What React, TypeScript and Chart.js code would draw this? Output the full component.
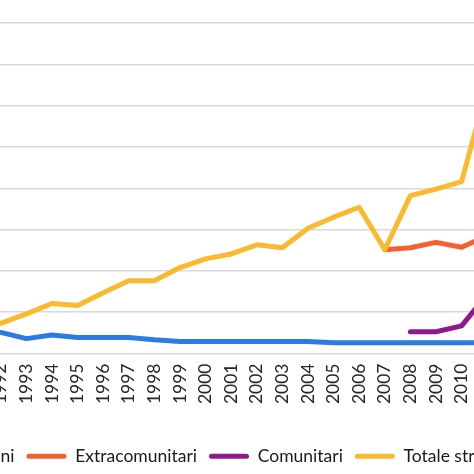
import React, { useEffect, useRef } from "react";
import { Chart, registerables } from "chart.js";

Chart.register(...registerables);

const years = [
  "1992", "1993", "1994", "1995", "1996", "1997", "1998", "1999", "2000", "2001",
  "2002", "2003", "2004", "2005", "2006", "2007", "2008", "2009", "2010", "2011",
];

const italiani = [
  2550, 1800, 2230, 1940, 1940, 1940, 1660, 1450, 1450, 1450,
  1450, 1450, 1450, 1300, 1300, 1300, 1300, 1300, 1300, 1300,
];

const extracomunitari = [
  null, null, null, null, null, null, null, null, null, null,
  null, null, null, null, null, 12550, 12800, 13450, 12850, 14250,
];

const comunitari = [
  null, null, null, null, null, null, null, null, null, null,
  null, null, null, null, null, null, 2630, 2630, 3350, 7150,
];

const totaleStranieri = [
  3650, 4800, 6050, 5800, 7350, 8800, 8800, 10400, 11450, 12050,
  13150, 12800, 15150, 16500, 17700, 12550, 19100, 19900, 20800, 32200,
];

const seriesLabels = ["Italiani", "Extracomunitari", "Comunitari", "Totale stranieri"];
const seriesColors = ["#2B7BE4", "#F4602F", "#8E1A8E", "#FBB92E"];

const yMin = 0;
const yMax = 40000;
const yStep = 5000;

const FONT = "Lato, 'Open Sans', sans-serif";

export default function App() {
  const ref = useRef<HTMLCanvasElement | null>(null);

  useEffect(() => {
    if (!ref.current) return;
    const values = [italiani, extracomunitari, comunitari, totaleStranieri];
    const drawOrder = [3, 2, 1, 0];
    const chart = new Chart(ref.current, {
      type: "line",
      data: {
        labels: years,
        datasets: values.map((v, i) => ({
          label: seriesLabels[i],
          data: v,
          borderColor: seriesColors[i],
          backgroundColor: seriesColors[i],
          borderWidth: 5,
          pointRadius: 0,
          pointHoverRadius: 0,
          tension: 0,
          borderCapStyle: "round",
          borderJoinStyle: "round",
          spanGaps: false,
          order: drawOrder[i],
          yAxisID: "y",
        })),
      },
      options: {
        responsive: false,
        animation: false,
        devicePixelRatio: 1,
        layout: { padding: { top: 23, left: 0, right: 0, bottom: 0 } },
        scales: {
          x: {
            type: "category",
            offset: true,
            grid: { display: false, drawTicks: false },
            border: { display: false },
            ticks: {
              autoSkip: false,
              minRotation: 90,
              maxRotation: 90,
              padding: 10,
              color: "#262626",
              font: { family: FONT, size: 17.5 },
            },
            afterFit: (scale: any) => {
              scale.height = 82;
            },
          },
          y: {
            position: "left",
            min: yMin,
            max: yMax,
            grid: { color: "#D9D9D9", lineWidth: 1.5, drawTicks: false },
            border: { display: false },
            ticks: {
              stepSize: yStep,
              padding: 8,
              color: "#262626",
              font: { family: FONT, size: 17.5 },
            },
            afterFit: (scale: any) => {
              scale.width = 92;
            },
          },
          yRight: {
            position: "right",
            min: yMin,
            max: yMax,
            grid: { display: false, drawTicks: false },
            border: { display: false },
            ticks: { display: false },
            afterFit: (scale: any) => {
              scale.width = 36;
            },
          },
        },
        plugins: {
          legend: {
            position: "bottom",
            labels: {
              boxWidth: 40,
              boxHeight: 5,
              padding: 12,
              useBorderRadius: true,
              borderRadius: 2.5,
              color: "#1A1A1A",
              font: { family: FONT, size: 17.5 },
              sort: (a: any, b: any) => a.datasetIndex - b.datasetIndex,
              generateLabels: (c: any) =>
                (Chart.defaults.plugins.legend.labels as any)
                  .generateLabels(c)
                  .map((l: any) => ({ ...l, lineWidth: 0 })),
            },
          },
          tooltip: { enabled: false },
          title: { display: false },
        },
      },
    });
    return () => chart.destroy();
  }, []);

  return (
    <div
      style={{
        position: "fixed",
        left: 0,
        top: 0,
        width: 474,
        height: 474,
        overflow: "hidden",
        background: "#ffffff",
      }}
    >
      <canvas
        ref={ref}
        width={640}
        height={475}
        style={{ position: "absolute", left: -104, top: 0, width: 640, height: 475 }}
      />
    </div>
  );
}
